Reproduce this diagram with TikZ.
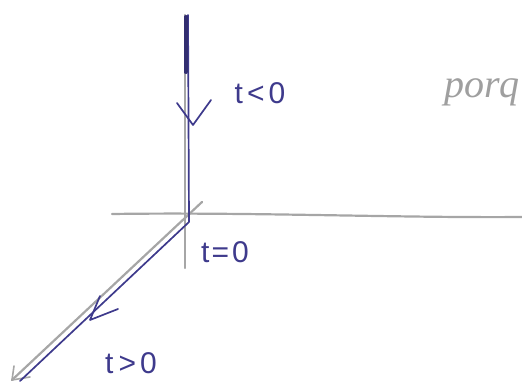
\documentclass[tikz,border=0pt]{standalone}
\usepackage{fontspec}
\setmainfont{Liberation Sans}
\newfontfamily\notefont{Liberation Serif}
\begin{document}
\begin{tikzpicture}[x=1pt,y=-1pt,
  axis/.style={draw=gray!70,line width=2.2pt,line cap=round},
  path/.style={draw=inkblue,line width=1.7pt,line cap=round,line join=round},
  lbl/.style={text=inkblue,font=\fontsize{30}{30}\selectfont,inner sep=0pt},
  note/.style={text=gray!75,font=\fontsize{40}{40}\selectfont\notefont\itshape,inner sep=0pt}]
\definecolor{inkblue}{RGB}{62,58,140}
\useasboundingbox (0,0) rectangle (522,383);
% coordinates
\coordinate (vtop) at (185,15);
\coordinate (vbot) at (185,268);
\coordinate (hl) at (112,214);
\coordinate (hr) at (522,217);
\coordinate (dtop) at (202,202);
\coordinate (dend) at (12,380);
\coordinate (btop) at (188,15);
\coordinate (bo) at (189,222);
\coordinate (bend) at (20,381);
% gray axes
\draw[axis] (vtop) -- (vbot);
\draw[axis] (hl) .. controls (250,212) and (400,218) .. (hr);
\draw[axis] (dtop) -- (dend);
\coordinate (ga1) at (14,366);
\coordinate (ga2) at (30,377);
\draw[axis,line width=1.6pt] (ga1) -- (dend) -- (ga2);
% blue path
\draw[path] (btop) -- (bo) -- (bend);
\draw[draw=inkblue!80!black,line width=4pt,line cap=round] (185.5,17) -- (185.5,72);
% chevrons
\coordinate (c1a) at (177,103);
\coordinate (c1t) at (193,125);
\coordinate (c1b) at (211,100);
\draw[path] (c1a) -- (c1t) -- (c1b);
\coordinate (c2a) at (100,296);
\coordinate (c2t) at (90,320);
\coordinate (c2b) at (118,309);
\draw[path] (c2a) -- (c2t) -- (c2b);
% labels
\node[lbl] (l1) at (260,93) {t\kern4pt<\kern4pt0};
\node[lbl] (l2) at (225,252) {t\kern2pt=\kern3pt0};
\node[lbl] (l3) at (131,363) {t\kern5pt>\kern4pt0};
\node[note] (n1) at (482,92) {porq};
\end{tikzpicture}
\end{document}
